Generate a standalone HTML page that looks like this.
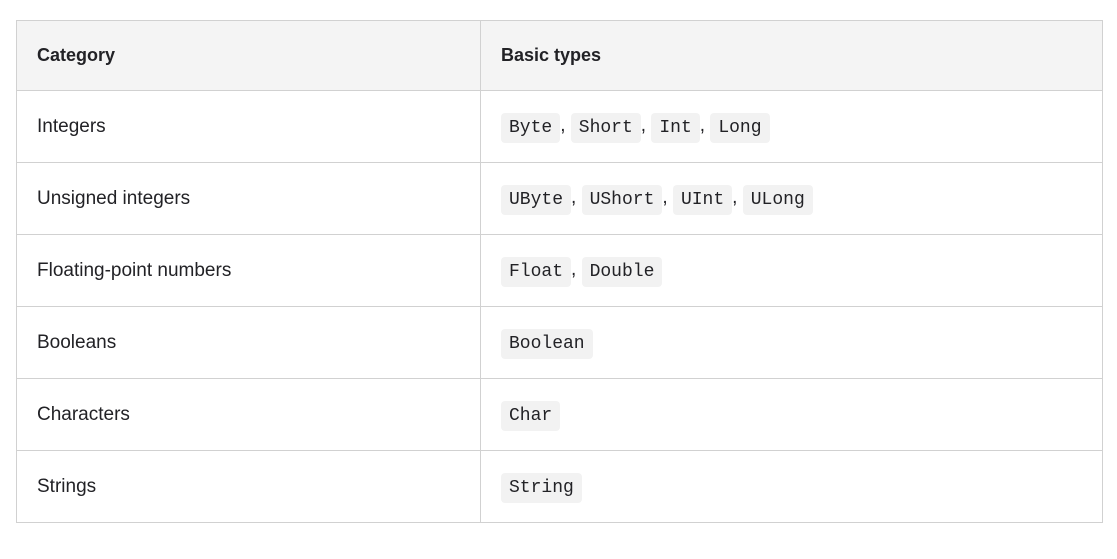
<!DOCTYPE html>
<html><head><meta charset="utf-8"><style>
html,body{margin:0;padding:0;background:#fff;width:1117px;height:559px;overflow:hidden}
table{position:absolute;left:16px;top:20px;border-collapse:collapse;font-family:"Liberation Sans",sans-serif;font-size:19px;color:#222226}
td,th{border:1px solid #d1d1d1;padding:0 0 0 20px;text-align:left;vertical-align:middle}
th{background:#f4f4f4;font-weight:bold;height:69px;font-size:18px}
td{height:71px}
tr td:first-child,tr th:first-child{width:443px}
tr td:last-child,tr th:last-child{width:601px}
code{font-family:"Liberation Mono",monospace;font-size:18px;background:#f2f2f2;border-radius:4px;padding:5px 8px;display:inline-block;line-height:20px;position:relative;top:1px}
</style></head><body>
<table>
<tr><th>Category</th><th>Basic types</th></tr>
<tr><td>Integers</td><td><code>Byte</code>, <code>Short</code>, <code>Int</code>, <code>Long</code></td></tr>
<tr><td>Unsigned integers</td><td><code>UByte</code>, <code>UShort</code>, <code>UInt</code>, <code>ULong</code></td></tr>
<tr><td>Floating-point numbers</td><td><code>Float</code>, <code>Double</code></td></tr>
<tr><td>Booleans</td><td><code>Boolean</code></td></tr>
<tr><td>Characters</td><td><code>Char</code></td></tr>
<tr><td>Strings</td><td><code>String</code></td></tr>
</table>
</body></html>
